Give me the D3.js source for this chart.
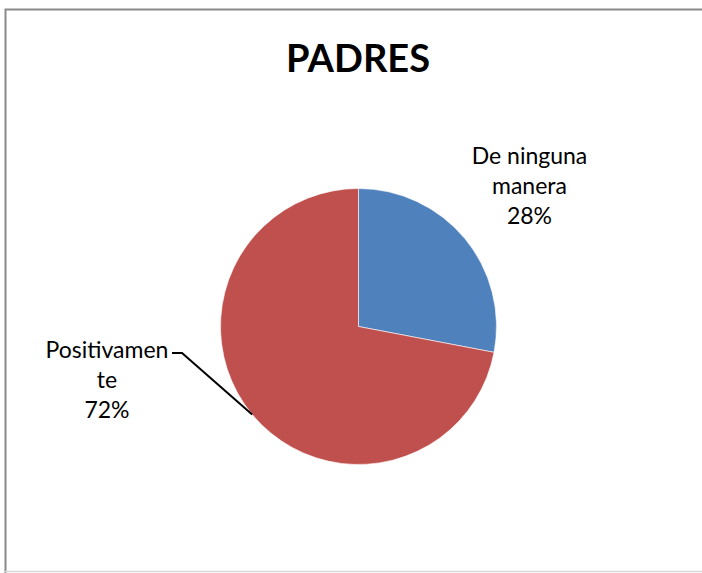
<!DOCTYPE html>
<html>
<head>
<meta charset="utf-8">
<script src="https://cdn.jsdelivr.net/npm/d3@7"></script>
<style>
  html, body { margin: 0; padding: 0; background: #fff; }
  svg { display: block; }
  text { font-family: Lato, "Open Sans", sans-serif; fill: #000; }
</style>
</head>
<body>
<svg id="chart" width="702" height="573"></svg>
<script>
const title = "PADRES";
const categories = ["De ninguna manera", "Positivamente"];
const values = [28, 72];
const labelLines = [["De ninguna", "manera", "28%"], ["Positivamen", "te", "72%"]];
const colors = ["#4F81BD", "#C0504D"];

const svg = d3.select("#chart");
const W = 702, H = 573;

// frame
svg.append("rect").attr("x", 0).attr("y", 0).attr("width", W).attr("height", H).attr("fill", "#fff");
svg.append("path").attr("d", `M5.5,${H} V9.5 H${W}`).attr("fill", "none").attr("stroke", "#8a8a8a").attr("stroke-width", 2);
svg.append("line").attr("x1", 5).attr("x2", W).attr("y1", 571.5).attr("y2", 571.5).attr("stroke", "#d9d9d9").attr("stroke-width", 1.5);

// title
svg.append("text").attr("x", 358).attr("y", 72).attr("text-anchor", "middle")
  .attr("font-size", 38).attr("font-weight", "bold").text(title);

const cx = 358.5, cy = 326.5, r = 138;
const g = svg.append("g").attr("transform", `translate(${cx},${cy})`);
const pie = d3.pie().sort(null).value(d => d)(values);
const arc = d3.arc().innerRadius(0).outerRadius(r);
g.selectAll("path.slice").data(pie).enter().append("path")
  .attr("class", "slice")
  .attr("d", arc)
  .attr("fill", (d, i) => colors[i])
  .attr("stroke", "#fff").attr("stroke-width", 0.6);

// labels
const labelPos = [{x: 529.5, y: 164}, {x: 107, y: 358}];
const lh = 30;
labelLines.forEach((lines, i) => {
  const t = svg.append("text").attr("text-anchor", "middle").attr("font-size", 23).attr("fill", "#000");
  lines.forEach((ln, j) => {
    t.append("tspan").attr("x", labelPos[i].x).attr("y", labelPos[i].y + j * lh).text(ln);
  });
});

// leader line for "Positivamente"
const edge = d3.arc().innerRadius(r).outerRadius(r).centroid(pie[1]);
const leader = [[172, 353], [182, 353], [cx + edge[0], cy + edge[1]]];
svg.append("path").attr("d", d3.line()(leader)).attr("fill", "none").attr("stroke", "#000").attr("stroke-width", 2);
</script>
</body>
</html>
